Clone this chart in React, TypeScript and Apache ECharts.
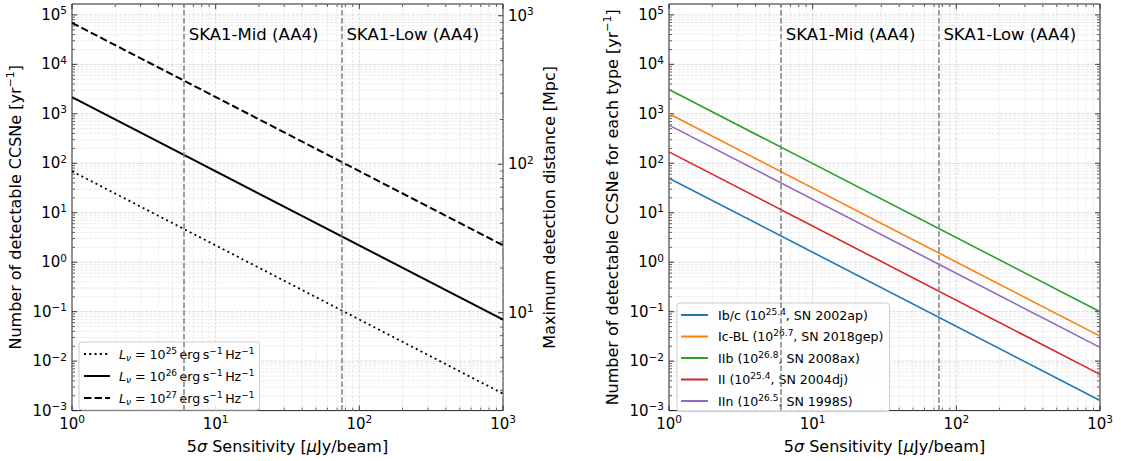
import React, { useEffect, useRef } from 'react';
import * as echarts from 'echarts';

const FONT = "'DejaVu Sans', 'Noto Sans', sans-serif";

// ---------- data ----------
const sensitivity = [1, 1000]; // 5σ sensitivity [μJy/beam]

// left panel: detectable CCSNe for fixed luminosities
const lumExponents = ['25', '26', '27'];
const rateL25 = [69, 0.0022];
const rateL26 = [2180, 0.069];
const rateL27 = [69000, 2.2];

// right panel: detectable CCSNe for each type
const typeNames = ['Ib/c', 'Ic-BL', 'IIb', 'II', 'IIn'];
const typeLum = ['25.4', '26.7', '26.8', '25.4', '26.5'];
const typeSN = ['SN 2002ap', 'SN 2018gep', 'SN 2008ax', 'SN 2004dj', 'SN 1998S'];
const rateIbc = [50, 0.0016];
const rateIcBL = [1000, 0.032];
const rateIIb = [3100, 0.1];
const rateII = [170, 0.0054];
const rateIIn = [590, 0.019];
const typeRates = [rateIbc, rateIcBL, rateIIb, rateII, rateIIn];
const typeColors = ['#1f77b4', '#ff7f0e', '#2ca02c', '#d62728', '#9467bd'];

// SKA sensitivities
const skaNames = ['SKA1-Mid (AA4)', 'SKA1-Low (AA4)'];
const skaSensitivity = [6, 75];
const skaLabelY = 4e4;

// axis ranges
const xRange = [1, 1000];
const yRange = [1e-3, 1.66e5];
const distRange = [2.19, 1200];

// ---------- helpers ----------
const supText = (e: number) => (e < 0 ? '−' + Math.abs(e) : String(e));
const powLabel = (v: number) => {
  const l = Math.log10(v);
  const e = Math.round(l);
  if (Math.abs(l - e) > 1e-6) return '';
  return `{b|10}{s|${supText(e)}}`;
};

function logDecoTicks(min: number, max: number) {
  const out: number[][] = [];
  for (let e = Math.floor(Math.log10(min)); e <= Math.ceil(Math.log10(max)); e++) {
    for (let m = 1; m <= 9; m++) {
      const v = m * Math.pow(10, e);
      if (v >= min * (1 - 1e-9) && v <= max * (1 + 1e-9)) out.push([v, m === 1 ? 2 : 1]);
    }
  }
  return out;
}

const TICK_RICH = {
  b: { fontFamily: FONT, fontSize: 15, color: '#000', lineHeight: 20 },
  s: { fontFamily: FONT, fontSize: 10.5, color: '#000', verticalAlign: 'top', lineHeight: 9 },
};
const NAME_RICH = {
  s: { fontFamily: FONT, fontSize: 11, color: '#000', verticalAlign: 'top', lineHeight: 10 },
  i: { fontFamily: FONT, fontSize: 16, color: '#000', fontStyle: 'italic', lineHeight: 20 },
};
const LEG_FS = 12.6;
const LEG_RICH = {
  n: { fontFamily: FONT, fontSize: LEG_FS, color: '#000', lineHeight: 16 },
  i: { fontFamily: FONT, fontSize: LEG_FS, color: '#000', fontStyle: 'italic', lineHeight: 16 },
  s: { fontFamily: FONT, fontSize: 9, color: '#000', verticalAlign: 'top', lineHeight: 8 },
  u: { fontFamily: FONT, fontSize: 9, color: '#000', fontStyle: 'italic', verticalAlign: 'bottom', lineHeight: 9 },
};

function renderDeco(params: any, api: any) {
  const cs = params.coordSys;
  const kind = api.value(2);
  const major = api.value(3) === 2;
  const p = api.coord([api.value(0), api.value(1)]);
  const L = major ? 5 : 3;
  const tickStyle = { stroke: '#222', lineWidth: major ? 0.9 : 0.7 };
  const gridStyle = {
    stroke: major ? '#cfcfcf' : '#e6e6e6',
    lineWidth: 0.8,
    lineDash: [3, 1.3],
  };
  const x0 = cs.x, x1 = cs.x + cs.width, y0 = cs.y, y1 = cs.y + cs.height;
  const children: any[] = [];
  if (kind === 1) {
    const x = p[0];
    if (x > x0 + 0.5 && x < x1 - 0.5)
      children.push({ type: 'line', shape: { x1: x, y1: y0, x2: x, y2: y1 }, style: gridStyle });
    children.push({ type: 'line', shape: { x1: x, y1: y1, x2: x, y2: y1 - L }, style: tickStyle });
    children.push({ type: 'line', shape: { x1: x, y1: y0, x2: x, y2: y0 + L }, style: tickStyle });
  } else if (kind === 2 || kind === 4) {
    const y = p[1];
    if (y > y0 + 0.5 && y < y1 - 0.5)
      children.push({ type: 'line', shape: { x1: x0, y1: y, x2: x1, y2: y }, style: gridStyle });
    children.push({ type: 'line', shape: { x1: x0, y1: y, x2: x0 + L, y2: y }, style: tickStyle });
    if (kind === 2)
      children.push({ type: 'line', shape: { x1: x1, y1: y, x2: x1 - L, y2: y }, style: tickStyle });
  } else if (kind === 3) {
    const y = p[1];
    children.push({ type: 'line', shape: { x1: x1, y1: y, x2: x1 - L, y2: y }, style: tickStyle });
  }
  return { type: 'group', children, silent: true };
}

function decoSeries(xi: number, yi: number, yKind: number, yMin: number, yMax: number, withX: boolean) {
  const data: number[][] = [];
  if (withX) logDecoTicks(xRange[0], xRange[1]).forEach(([v, m]) => data.push([v, 1, 1, m]));
  logDecoTicks(yMin, yMax).forEach(([v, m]) => data.push([1, v, yKind, m]));
  return {
    type: 'custom',
    xAxisIndex: xi,
    yAxisIndex: yi,
    silent: true,
    z: 1,
    encode: { x: 0, y: 1 },
    renderItem: renderDeco,
    data,
  };
}

function skaSeries(xi: number, yi: number) {
  return {
    type: 'scatter',
    xAxisIndex: xi,
    yAxisIndex: yi,
    symbolSize: 0,
    silent: true,
    z: 4,
    label: {
      show: true,
      position: 'right',
      distance: 5,
      formatter: '{b}',
      fontFamily: FONT,
      fontSize: 16.5,
      color: '#000',
      opacity: 1,
    },
    data: skaSensitivity.map((x, i) => ({ name: skaNames[i], value: [x, skaLabelY] })),
    markLine: {
      silent: true,
      symbol: ['none', 'none'],
      label: { show: false },
      lineStyle: { color: '#7f7f7f', width: 1.5, type: [5.5, 2.4] },
      data: skaSensitivity.map((x) => ({ xAxis: x })),
    },
  };
}

const xAxisCommon = (gridIndex: number) => ({
  type: 'log',
  gridIndex,
  min: xRange[0],
  max: xRange[1],
  logBase: 10,
  axisLine: { show: false },
  axisTick: { show: false },
  splitLine: { show: false },
  axisLabel: { formatter: powLabel, rich: TICK_RICH, margin: 3, showMinLabel: true, showMaxLabel: true },
  name: '5{i|σ} Sensitivity [{i|μ}Jy/beam]',
  nameLocation: 'middle',
  nameGap: 24,
  nameTextStyle: { fontFamily: FONT, fontSize: 16, color: '#000', lineHeight: 20, rich: NAME_RICH },
});

const yAxisCommon = (gridIndex: number, name: string) => ({
  type: 'log',
  gridIndex,
  min: yRange[0],
  max: yRange[1],
  logBase: 10,
  axisLine: { show: false },
  axisTick: { show: false },
  splitLine: { show: false },
  axisLabel: { formatter: powLabel, rich: TICK_RICH, margin: 5, showMinLabel: true, showMaxLabel: true },
  name,
  nameLocation: 'middle',
  nameRotate: 90,
  nameGap: 47,
  nameTextStyle: { fontFamily: FONT, fontSize: 16, color: '#000', lineHeight: 20, rich: NAME_RICH },
});

const lumDash: any[] = [[2, 3.3], 'solid', [7.4, 3.2]];
const lumRates = [rateL25, rateL26, rateL27];
const TS = '\u2009';

const legendBase = {
  orient: 'vertical',
  itemHeight: 14,
  backgroundColor: 'rgba(255,255,255,0.85)',
  borderColor: '#cccccc',
  borderWidth: 1,
  borderRadius: 3,
  selectedMode: false,
  itemStyle: { opacity: 0 },
};

const option: any = {
  animation: false,
  backgroundColor: '#fff',
  grid: [
    { left: 72, top: 4, width: 431, height: 411, show: true, borderColor: '#222', borderWidth: 1, backgroundColor: 'transparent' },
    { left: 669, top: 4, width: 431, height: 411, show: true, borderColor: '#222', borderWidth: 1, backgroundColor: 'transparent' },
  ],
  xAxis: [xAxisCommon(0), xAxisCommon(1)],
  yAxis: [
    yAxisCommon(0, 'Number of detectable CCSNe [yr{s|−1}]'),
    {
      type: 'log',
      gridIndex: 0,
      position: 'right',
      min: distRange[0],
      max: distRange[1],
      logBase: 10,
      axisLine: { show: false },
      axisTick: { show: false },
      splitLine: { show: false },
      axisLabel: { formatter: powLabel, rich: TICK_RICH, margin: 5 },
      name: 'Maximum detection distance [Mpc]',
      nameLocation: 'middle',
      nameRotate: 90,
      nameGap: 36,
      nameTextStyle: { fontFamily: FONT, fontSize: 16, color: '#000', lineHeight: 20 },
    },
    yAxisCommon(1, 'Number of detectable CCSNe for each type [yr{s|−1}]'),
  ],
  legend: [
    {
      ...legendBase,
      data: lumExponents.map((e) => 'L' + e),
      left: 79,
      top: 342,
      itemWidth: 26,
      itemGap: 6,
      padding: [4, 5, 4, 4],
      textStyle: { fontFamily: FONT, fontSize: LEG_FS, color: '#000', rich: LEG_RICH, padding: [0, 0, 0, 4] },
      formatter: (name: string) =>
        `{i|L}{u|ν}{n| = 10}{s|${name.slice(1)}}{n|${TS}erg${TS}s}{s|−1}{n|${TS}Hz}{s|−1}`,
    },
    {
      ...legendBase,
      data: typeNames,
      left: 677,
      top: 303,
      itemWidth: 27,
      itemGap: 7,
      padding: [4, 6, 4, 3],
      textStyle: { fontFamily: FONT, fontSize: LEG_FS, color: '#000', rich: LEG_RICH, padding: [0, 0, 0, 5] },
      formatter: (name: string) => {
        const i = typeNames.indexOf(name);
        return `{n|${name} (10}{s|${typeLum[i]}}{n|, ${typeSN[i]})}`;
      },
    },
  ],
  series: [
    decoSeries(0, 0, 4, yRange[0], yRange[1], true),
    decoSeries(0, 1, 3, distRange[0], distRange[1], false),
    decoSeries(1, 2, 2, yRange[0], yRange[1], true),
    ...lumRates.map((r, i) => ({
      type: 'line',
      name: 'L' + lumExponents[i],
      xAxisIndex: 0,
      yAxisIndex: 0,
      symbol: 'none',
      z: 3,
      lineStyle: { color: '#000', width: i === 0 ? 1.8 : 2, type: lumDash[i] },
      itemStyle: { color: '#000' },
      data: sensitivity.map((x, j) => [x, r[j]]),
    })),
    ...typeRates.map((r, i) => ({
      type: 'line',
      name: typeNames[i],
      xAxisIndex: 1,
      yAxisIndex: 2,
      symbol: 'none',
      z: 3,
      lineStyle: { color: typeColors[i], width: 1.6 },
      itemStyle: { color: typeColors[i] },
      data: sensitivity.map((x, j) => [x, r[j]]),
    })),
    skaSeries(0, 0),
    skaSeries(1, 2),
  ],
};

export default function App() {
  const ref = useRef<HTMLDivElement>(null);
  useEffect(() => {
    const chart = echarts.init(ref.current!, null, { renderer: 'svg' });
    chart.setOption(option);
    return () => chart.dispose();
  }, []);
  return (
    <div
      ref={ref}
      style={{ position: 'absolute', left: 0, top: 0, width: 1121, height: 461, background: '#fff' }}
    />
  );
}
